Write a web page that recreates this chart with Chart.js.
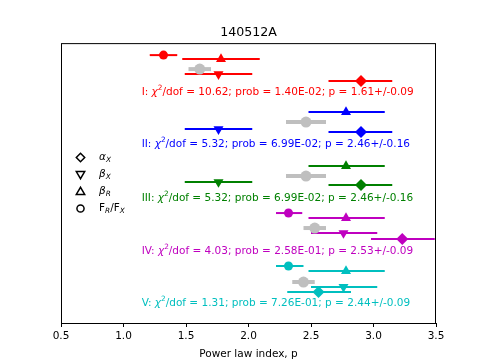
<!DOCTYPE html>
<html>
<head>
<meta charset="utf-8">
<script src="https://cdn.jsdelivr.net/npm/chart.js@4/dist/chart.umd.min.js"></script>
<style>
  body { margin: 0; background: #fff; }
  #wrap { width: 485px; height: 364px; }
</style>
</head>
<body>
<div id="wrap"><canvas id="fitChart" width="485" height="364"></canvas></div>
<script>
// groups of the fit (one row block each)
var groupNames = ['I', 'II', 'III', 'IV', 'V'];
var groupColors = ['#ff0000', '#0000ff', '#008000', '#bf00bf', '#00bfbf'];

// alpha_X (diamond)
var alphaX   = [2.90, 2.90, 2.90, 3.23, 2.56];
var alphaXLo = [2.64, 2.64, 2.64, 2.98, 2.31];
var alphaXHi = [3.15, 3.15, 3.15, 3.49, 2.82];
var alphaXRow = [24.2, 19.1, 13.8, 8.4, 3.1];

// beta_X (triangle down)
var betaX   = [1.76, 1.76, 1.76, 2.76, 2.76];
var betaXLo = [1.49, 1.49, 1.49, 2.50, 2.50];
var betaXHi = [2.03, 2.03, 2.03, 3.03, 3.03];
var betaXRow = [24.9, 19.4, 14.1, 9.0, 3.6];

// beta_R (triangle up)
var betaR   = [1.78, 2.78, 2.78, 2.78, 2.78];
var betaRLo = [1.47, 2.48, 2.48, 2.48, 2.48];
var betaRHi = [2.09, 3.09, 3.09, 3.09, 3.09];
var betaRRow = [26.4, 21.1, 15.7, 10.5, 5.2];

// F_R/F_X (circle), missing for II and III
var frfx   = [1.32, null, null, 2.32, 2.32];
var frfxLo = [1.21, null, null, 2.22, 2.22];
var frfxHi = [1.43, null, null, 2.43, 2.44];
var frfxRow = [26.8, null, null, 11.0, 5.7];

// best fit p (grey)
var fitP   = [1.61, 2.46, 2.46, 2.53, 2.44];
var fitErr = [0.09, 0.16, 0.16, 0.09, 0.09];
var fitRow = [25.4, 20.1, 14.7, 9.5, 4.1];

// fit statistics
var chi2Dof = [10.62, 5.32, 5.32, 4.03, 1.31];
var probs = ['1.40E-02', '6.99E-02', '6.99E-02', '2.58E-01', '7.26E-01'];
var textRow = [23.1, 17.9, 12.5, 7.2, 2.0];
var textX = 1.145;

var xTicks = [0.5, 1.0, 1.5, 2.0, 2.5, 3.0, 3.5];

var FONT = '"DejaVu Sans", sans-serif';
var FS = 10.5;

function pt(x, lo, hi, y, style, rot, radius) {
    return { x: x, y: y, xMin: lo, xMax: hi, style: style, rot: rot, r: radius };
}

var datasets = [];
groupNames.forEach(function (name, i) {
    var pts = [];
    if (frfx[i] !== null) pts.push(pt(frfx[i], frfxLo[i], frfxHi[i], frfxRow[i], 'circle', 0, 4.5));
    pts.push(pt(betaR[i], betaRLo[i], betaRHi[i], betaRRow[i], 'triangle', 0, 5.8));
    pts.push(pt(betaX[i], betaXLo[i], betaXHi[i], betaXRow[i], 'triangle', 180, 5.8));
    pts.push(pt(alphaX[i], alphaXLo[i], alphaXHi[i], alphaXRow[i], 'rectRot', 0, 6));
    datasets.push({ label: name, data: pts, color: groupColors[i], barWidth: 2 });
});
datasets.push({
    label: 'fit',
    data: fitP.map(function (p, i) { return pt(p, p - fitErr[i], p + fitErr[i], fitRow[i], 'circle', 0, 5.5); }),
    color: '#bfbfbf',
    barWidth: 4
});
datasets.forEach(function (ds) {
    ds.backgroundColor = ds.color;
    ds.borderColor = ds.color;
    ds.borderWidth = 0;
    ds.pointStyle = function (c) { return c.raw ? c.raw.style : 'circle'; };
    ds.rotation = function (c) { return c.raw ? c.raw.rot : 0; };
    ds.pointRadius = function (c) { return c.raw ? c.raw.r : 4; };
    ds.pointHoverRadius = ds.pointRadius;
});

function drawRich(ctx, x, y, parts, size, color) {
    ctx.fillStyle = color;
    ctx.textBaseline = 'middle';
    ctx.textAlign = 'left';
    parts.forEach(function (p) {
        var s = size, dy = 0;
        if (p.sup) { s = size * 0.7; dy = -size * 0.38; }
        if (p.sub) { s = size * 0.7; dy = size * 0.25; }
        ctx.font = (p.it ? 'italic ' : '') + s + 'px ' + FONT;
        ctx.fillText(p.t, x, y + dy);
        x += ctx.measureText(p.t).width;
    });
}

function drawMarker(ctx, style, x, y, r) {
    ctx.beginPath();
    if (style === 'diamond') {
        ctx.moveTo(x, y - r); ctx.lineTo(x + r, y); ctx.lineTo(x, y + r); ctx.lineTo(x - r, y);
    } else if (style === 'down') {
        ctx.moveTo(x - r, y - r * 0.7); ctx.lineTo(x + r, y - r * 0.7); ctx.lineTo(x, y + r);
    } else if (style === 'up') {
        ctx.moveTo(x - r, y + r * 0.7); ctx.lineTo(x + r, y + r * 0.7); ctx.lineTo(x, y - r);
    } else {
        ctx.arc(x, y, r * 0.85, 0, Math.PI * 2);
    }
    ctx.closePath();
    ctx.stroke();
}

var fitPlugin = {
    id: 'fitPlugin',
    beforeDatasetsDraw: function (chart) {
        var ctx = chart.ctx, xs = chart.scales.x, ys = chart.scales.y;
        ctx.save();
        chart.data.datasets.forEach(function (ds) {
            ctx.strokeStyle = ds.color;
            ctx.lineWidth = ds.barWidth;
            ds.data.forEach(function (d) {
                var py = ys.getPixelForValue(d.y);
                ctx.beginPath();
                ctx.moveTo(xs.getPixelForValue(d.xMin), py);
                ctx.lineTo(xs.getPixelForValue(d.xMax), py);
                ctx.stroke();
            });
        });
        ctx.restore();
    },
    afterDraw: function (chart) {
        var ctx = chart.ctx, xs = chart.scales.x, ys = chart.scales.y, a = chart.chartArea;
        ctx.save();
        // frame
        ctx.strokeStyle = '#000';
        ctx.lineWidth = 1;
        ctx.strokeRect(a.left + 0.5, a.top + 0.5, a.right - a.left - 1, a.bottom - a.top);
        // fit statistics text
        groupNames.forEach(function (name, i) {
            drawRich(ctx, xs.getPixelForValue(textX), ys.getPixelForValue(textRow[i]), [
                { t: name + ': ' },
                { t: '\u03c7', it: true },
                { t: '2', sup: true },
                { t: '/dof = ' + chi2Dof[i].toFixed(2) + '; prob = ' + probs[i] + '; p = ' +
                     fitP[i].toFixed(2) + '+/-' + fitErr[i].toFixed(2) }
            ], FS, groupColors[i]);
        });
        // legend
        var legendItems = [
            { m: 'diamond', parts: [{ t: '\u03b1', it: true }, { t: 'X', it: true, sub: true }] },
            { m: 'down', parts: [{ t: '\u03b2', it: true }, { t: 'X', it: true, sub: true }] },
            { m: 'up', parts: [{ t: '\u03b2', it: true }, { t: 'R', it: true, sub: true }] },
            { m: 'circle', parts: [{ t: 'F' }, { t: 'R', it: true, sub: true }, { t: '/F' }, { t: 'X', it: true, sub: true }] }
        ];
        ctx.strokeStyle = '#000';
        ctx.lineWidth = 1.5;
        legendItems.forEach(function (it, k) {
            var ly = 157.5 + k * 17;
            drawMarker(ctx, it.m, 80.5, ly, 4.2);
            drawRich(ctx, 99, ly, it.parts, FS, '#000');
        });
        ctx.restore();
    }
};

var ctx = document.getElementById('fitChart').getContext('2d');
var fitChart = new Chart(ctx, {
    type: 'scatter',
    data: { datasets: datasets },
    options: {
        responsive: false,
        animation: false,
        layout: { padding: { left: 61, right: 49, top: 0, bottom: 0 } },
        plugins: {
            legend: { display: false },
            tooltip: { enabled: false },
            title: {
                display: true,
                text: '140512A',
                color: '#000',
                font: { family: FONT, size: 12.6, weight: 'normal' },
                padding: { top: 25.5, bottom: 2.5 }
            }
        },
        scales: {
            x: {
                type: 'linear',
                min: 0.5,
                max: 3.5,
                afterBuildTicks: function (scale) {
                    scale.ticks = xTicks.map(function (v) { return { value: v }; });
                },
                afterFit: function (scale) { scale.height = 41; },
                border: { display: false },
                grid: { drawOnChartArea: false, drawTicks: true, tickLength: 4, color: '#000', lineWidth: 1 },
                ticks: {
                    color: '#000',
                    padding: 2.5,
                    maxRotation: 0,
                    font: { family: FONT, size: FS },
                    callback: function (v) { return Number(v).toFixed(1); }
                },
                title: {
                    display: true,
                    text: 'Power law index, p',
                    color: '#000',
                    font: { family: FONT, size: FS },
                    padding: { top: 0, bottom: 3.5 }
                }
            },
            y: {
                type: 'linear',
                display: false,
                min: 0,
                max: 28
            }
        }
    },
    plugins: [fitPlugin]
});
</script>
</body>
</html>
